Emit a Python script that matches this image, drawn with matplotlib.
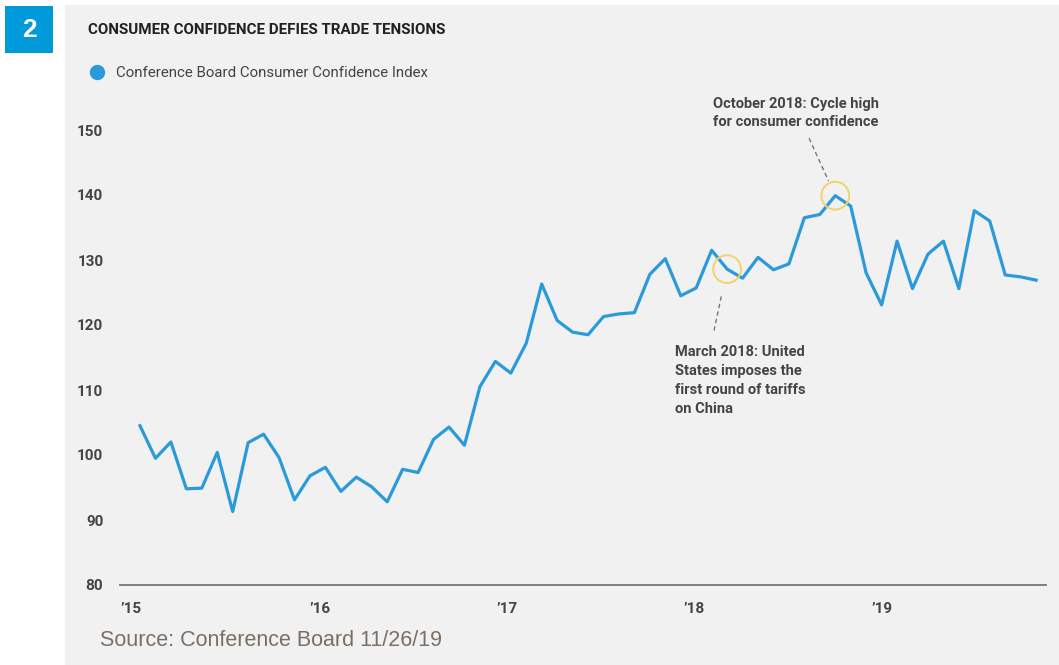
import numpy as np
import matplotlib
matplotlib.use("Agg")
import matplotlib.pyplot as plt
from matplotlib import font_manager
from matplotlib.lines import Line2D
from matplotlib.patches import Rectangle

# Conference Board Consumer Confidence Index, monthly Jan 2015 - Nov 2019
cci_2015 = [104.5, 99.5, 102.0, 94.8, 94.9, 100.4, 91.3, 101.9, 103.2, 99.6, 93.1, 96.8]
cci_2016 = [98.1, 94.4, 96.6, 95.1, 92.8, 97.8, 97.3, 102.4, 104.3, 101.5, 110.5, 114.4]
cci_2017 = [112.6, 117.2, 126.3, 120.7, 118.9, 118.5, 121.3, 121.7, 121.9, 127.8, 130.2, 124.5]
cci_2018 = [125.7, 131.5, 128.6, 127.2, 130.4, 128.5, 129.4, 136.5, 137.0, 139.9, 138.3, 128.0]
cci_2019 = [123.1, 132.9, 125.6, 130.9, 132.9, 125.6, 137.6, 136.0, 127.7, 127.4, 126.9]
cci = np.array(cci_2015 + cci_2016 + cci_2017 + cci_2018 + cci_2019)
months = np.arange(len(cci))  # 0 = Jan 2015

year_ticks = [-0.6, 11.65, 23.75, 35.85, 48.0]
year_labels = ["\u201915", "\u201916", "\u201917", "\u201918", "\u201919"]
y_ticks = [80, 90, 100, 110, 120, 130, 140, 150]

mar_2018 = 38
oct_2018 = 45

names = {f.name for f in font_manager.fontManager.ttflist}
cond = "Liberation Sans Narrow" if "Liberation Sans Narrow" in names else "Roboto"

W, H = 1059, 665
blue = "#2B9ADA"
grey_txt = "#444444"
bg = "#F1F1F1"

fig = plt.figure(figsize=(W / 100, H / 100), dpi=100)
fig.patch.set_facecolor("white")

def fx(px):
    return px / W

def fy(py):
    return 1 - py / H

# grey panel and number badge
fig.patches.append(Rectangle((fx(65), 0), 1 - fx(65), fy(5), transform=fig.transFigure,
                             facecolor=bg, edgecolor="none", zorder=-2))
fig.patches.append(Rectangle((fx(5), fy(53)), fx(48), fy(6) - fy(53), transform=fig.transFigure,
                             facecolor="#0099DA", edgecolor="none", zorder=-1))
fig.text(fx(29), fy(30), "2", color="white", fontsize=19, fontweight="bold",
         family="Liberation Sans", ha="center", va="center")

ax = fig.add_axes([fx(120), fy(585), fx(1046) - fx(120), fy(97.5) - fy(585)])
ax.set_zorder(1)
ax.set_facecolor("none")
ax.plot(months, cci, color=blue, lw=2.3, zorder=3)

# highlight circles
ax.scatter([months[mar_2018], months[oct_2018]], [cci[mar_2018], cci[oct_2018]], s=400,
           facecolors="none", edgecolors="#F2D36B", linewidths=1.4, zorder=4)

ax.annotate("", xy=(months[oct_2018], cci[oct_2018]), xytext=(-26, 57), textcoords="offset pixels",
            arrowprops=dict(arrowstyle="-", color="#777777", lw=1.0, linestyle=(0, (2.5, 3)),
                            shrinkA=0, shrinkB=12))
ax.annotate("", xy=(months[mar_2018], cci[mar_2018]), xytext=(-13, -61), textcoords="offset pixels",
            arrowprops=dict(arrowstyle="-", color="#777777", lw=1.0, linestyle=(0, (2.5, 3)),
                            shrinkA=0, shrinkB=18))

ax.set_xlim(-1.294, 58.64)
ax.set_ylim(80, 155)
ax.set_xticks(year_ticks)
ax.set_xticklabels(year_labels)
ax.set_yticks(y_ticks)
ax.tick_params(axis="both", length=0, labelsize=11, labelcolor=grey_txt)
ax.tick_params(axis="x", pad=12)
ax.tick_params(axis="y", pad=12)
for lab in ax.get_xticklabels() + ax.get_yticklabels():
    lab.set_family(cond)
    lab.set_fontweight("bold")
for s in ["top", "right", "left"]:
    ax.spines[s].set_visible(False)
ax.spines["bottom"].set_color("#777777")
ax.spines["bottom"].set_linewidth(1.3)

# title and legend
fig.text(fx(88), fy(30), "CONSUMER CONFIDENCE DEFIES TRADE TENSIONS", family=cond,
         fontweight="bold", fontsize=10.9, color="#222222", ha="left", va="center")
handle = Line2D([], [], marker="o", color=blue, linestyle="none", markersize=10)
leg = fig.legend([handle], ["Conference Board Consumer Confidence Index"], loc="center left",
                 bbox_to_anchor=(fx(89.4), fy(73)), frameon=False, borderpad=0, borderaxespad=0,
                 handlelength=1, handletextpad=0.74, prop={"family": cond, "size": 10.8})
for t in leg.get_texts():
    t.set_color(grey_txt)

# annotations
fig.text(fx(713), fy(113), "October 2018: Cycle high\nfor consumer confidence", family=cond,
         fontweight="bold", fontsize=10.5, color=grey_txt, ha="left", va="center", linespacing=1.45)
fig.text(fx(675), fy(380.5), "March 2018: United\nStates imposes the\nfirst round of tariffs\non China",
         family=cond, fontweight="bold", fontsize=10.5, color=grey_txt, ha="left", va="center",
         linespacing=1.45)

fig.text(fx(100), fy(641), "Source: Conference Board 11/26/19", family="Liberation Sans",
         fontsize=15.5, color="#7B6F65", ha="left", va="center")

fig.savefig("out.png", dpi=100, facecolor=fig.get_facecolor())
